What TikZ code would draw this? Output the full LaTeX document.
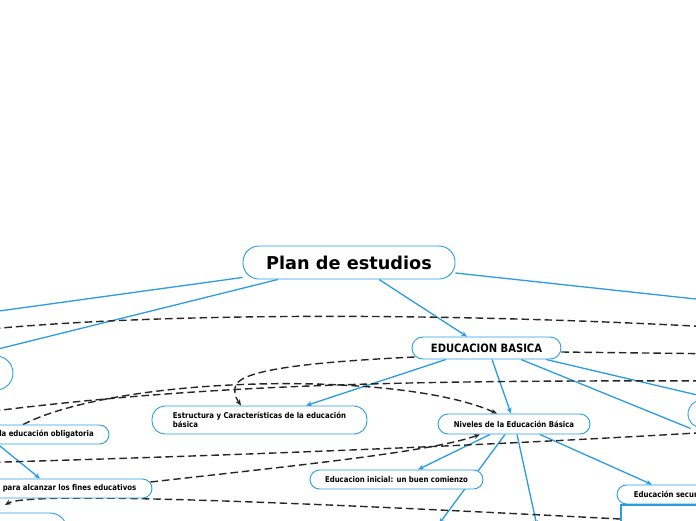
\documentclass[tikz,border=0pt]{standalone}
\usepackage{fontspec}
\usetikzlibrary{arrows.meta}
\newfontfamily\mmcond{DejaVu Sans Bold}[FakeStretch=0.87]
\newfontfamily\mmwide{DejaVu Sans Bold}
\newcommand\mmsmall{\mmcond\fontsize{8}{8.6}\selectfont}
\newcommand\mmeb{\mmcond\fontsize{11.5}{12}\selectfont}
\newcommand\mmbig{\mmwide\fontsize{17.7}{20}\selectfont}
\definecolor{mmblue}{RGB}{42,156,227}
\pgfdeclarelayer{background}
\pgfsetlayers{background,main}
\begin{document}
\begin{tikzpicture}[x=1pt,y=-1pt,
  topic/.style={draw=mmblue, line width=0.9pt, fill=white, rounded corners=9.5pt,
    inner sep=0pt, font=\mmsmall, text=black},
  link/.style={draw=mmblue, line width=1.3pt},
  dlink/.style={draw=black!85, line width=1.4pt, dash pattern=on 7.5pt off 4pt},
  arr/.style={-{Stealth[length=6pt,width=5pt]}}]
\useasboundingbox (0,0) rectangle (696,520);
\begin{scope}
\clip (0,0) rectangle (696,520);
% nodes
\node[topic, minimum width=212pt, minimum height=33pt, rounded corners=16pt, font=\mmbig] (plan) at (349,262.5) {Plan de estudios};
\node[topic, minimum width=149pt, minimum height=22pt, rounded corners=11pt, font=\mmeb] (eb) at (486.5,348) {EDUCACION BASICA};
\node[topic, minimum width=170pt, minimum height=34pt, rounded corners=17pt] (leftbig) at (-72,373) {};
\node[topic, minimum width=215pt, minimum height=28pt, rounded corners=13pt, align=left] (estr) at (259.5,420) {Estructura y Características de la educación\\básica};
\node[topic, minimum width=125pt, minimum height=19pt] (oblig) at (46.5,434.5) {la educación obligatoria};
\node[topic, minimum width=165pt, minimum height=19pt] (para) at (69.5,488.5) {para alcanzar los fines educativos};
\node[topic, minimum width=152pt, minimum height=20pt, rounded corners=10pt] (niv) at (514,424) {Niveles de la Educación Básica};
\node[topic, minimum width=173pt, minimum height=19pt] (inic) at (396.5,479.5) {Educacion inicial: un buen comienzo};
\node[topic, minimum width=119pt, minimum height=19pt] (sec) at (676.5,494.5) {Educación secundaria};
\node[draw=mmblue, line width=1.4pt, fill=white, minimum width=140pt, minimum height=60pt, inner sep=0pt] (secnote) at (691,535) {};
\node[topic, minimum width=110pt, minimum height=28pt, rounded corners=14pt] (rn) at (743,414) {};
\node[topic, minimum width=120pt, minimum height=34pt, rounded corners=17pt] (bl) at (7,530) {};
% free ends
\coordinate (c1) at (-30,315);
\coordinate (c2) at (-30,356);
\coordinate (c4) at (730,302.7);
\coordinate (c8) at (730,402.7);
\coordinate (c10) at (439,524);
\coordinate (c11) at (537,526);
\coordinate (d1a) at (-30,331);
\coordinate (d1b) at (730,328);
\coordinate (d2) at (730,354);
\coordinate (d4a) at (-30,414);
\coordinate (d4b) at (730,381);
\coordinate (d6a) at (-30,463);
\coordinate (d6b) at (730,431);
\coordinate (d8) at (5,505);
\end{scope}
\begin{pgfonlayer}{background}
\fill[white] (0,0) rectangle (696,520);
\clip (0,0) rectangle (696,520);
% blue connectors
\draw[link] (plan.188) -- (c1);
\draw[link] ([xshift=-71pt]plan.south) -- (c2);
\draw[link,arr] ([xshift=30pt]plan.south) -- ([xshift=-19.5pt]eb.north);
\draw[link] ([yshift=-10.5pt]plan.east) -- (c4);
\draw[link,arr] ([xshift=-40.5pt]eb.south) -- ([xshift=46.5pt]estr.north);
\draw[link,arr] ([xshift=5.5pt]eb.south) -- ([xshift=-3pt]niv.north);
\draw[link] ([xshift=34.5pt]eb.south) -- ([xshift=3pt]rn.south west);
\draw[link] ([xshift=59.5pt]eb.south) -- (c8);
\draw[link,arr] ([xshift=-24pt]niv.south) -- ([xshift=21.5pt]inic.north);
\draw[link,arr] ([xshift=-9pt]niv.south) -- (c10);
\draw[link,arr] ([xshift=3pt]niv.south) -- (c11);
\draw[link,arr] ([xshift=26pt]niv.south) -- ([xshift=-24.5pt]sec.north);
\draw[link,arr] ([xshift=-48.5pt]oblig.south) -- ([xshift=-29.5pt]para.north);
% dashed connectors
\draw[dlink] (d1a) .. controls (150,312) and (450,312) .. (d1b);
\draw[dlink] ([yshift=-4pt]eb.east) -- (d2);
\draw[dlink,arr] ([yshift=-9pt,xshift=3pt]eb.west) .. controls (290,363) and (236,372) .. (235,388) .. controls (234,396) and (238,401) .. ([xshift=-18.5pt]estr.north);
\draw[dlink] (d4a) .. controls (200,384) and (400,380) .. (d4b);
\draw[dlink,arr] ([xshift=-23.5pt]oblig.north) .. controls (120,375) and (400,370) .. ([xshift=-17pt]niv.north);
\draw[dlink] (d6a) .. controls (250,455) and (500,445) .. (d6b);
\draw[dlink,arr] ([xshift=-2pt,yshift=6.5pt]para.east) .. controls (300,465) and (430,452) .. ([xshift=-34pt]niv.south);
\draw[dlink,arr] ([yshift=16pt]secnote.west) .. controls (350,505) and (30,490) .. (d8);
\end{pgfonlayer}
\end{tikzpicture}
\end{document}
